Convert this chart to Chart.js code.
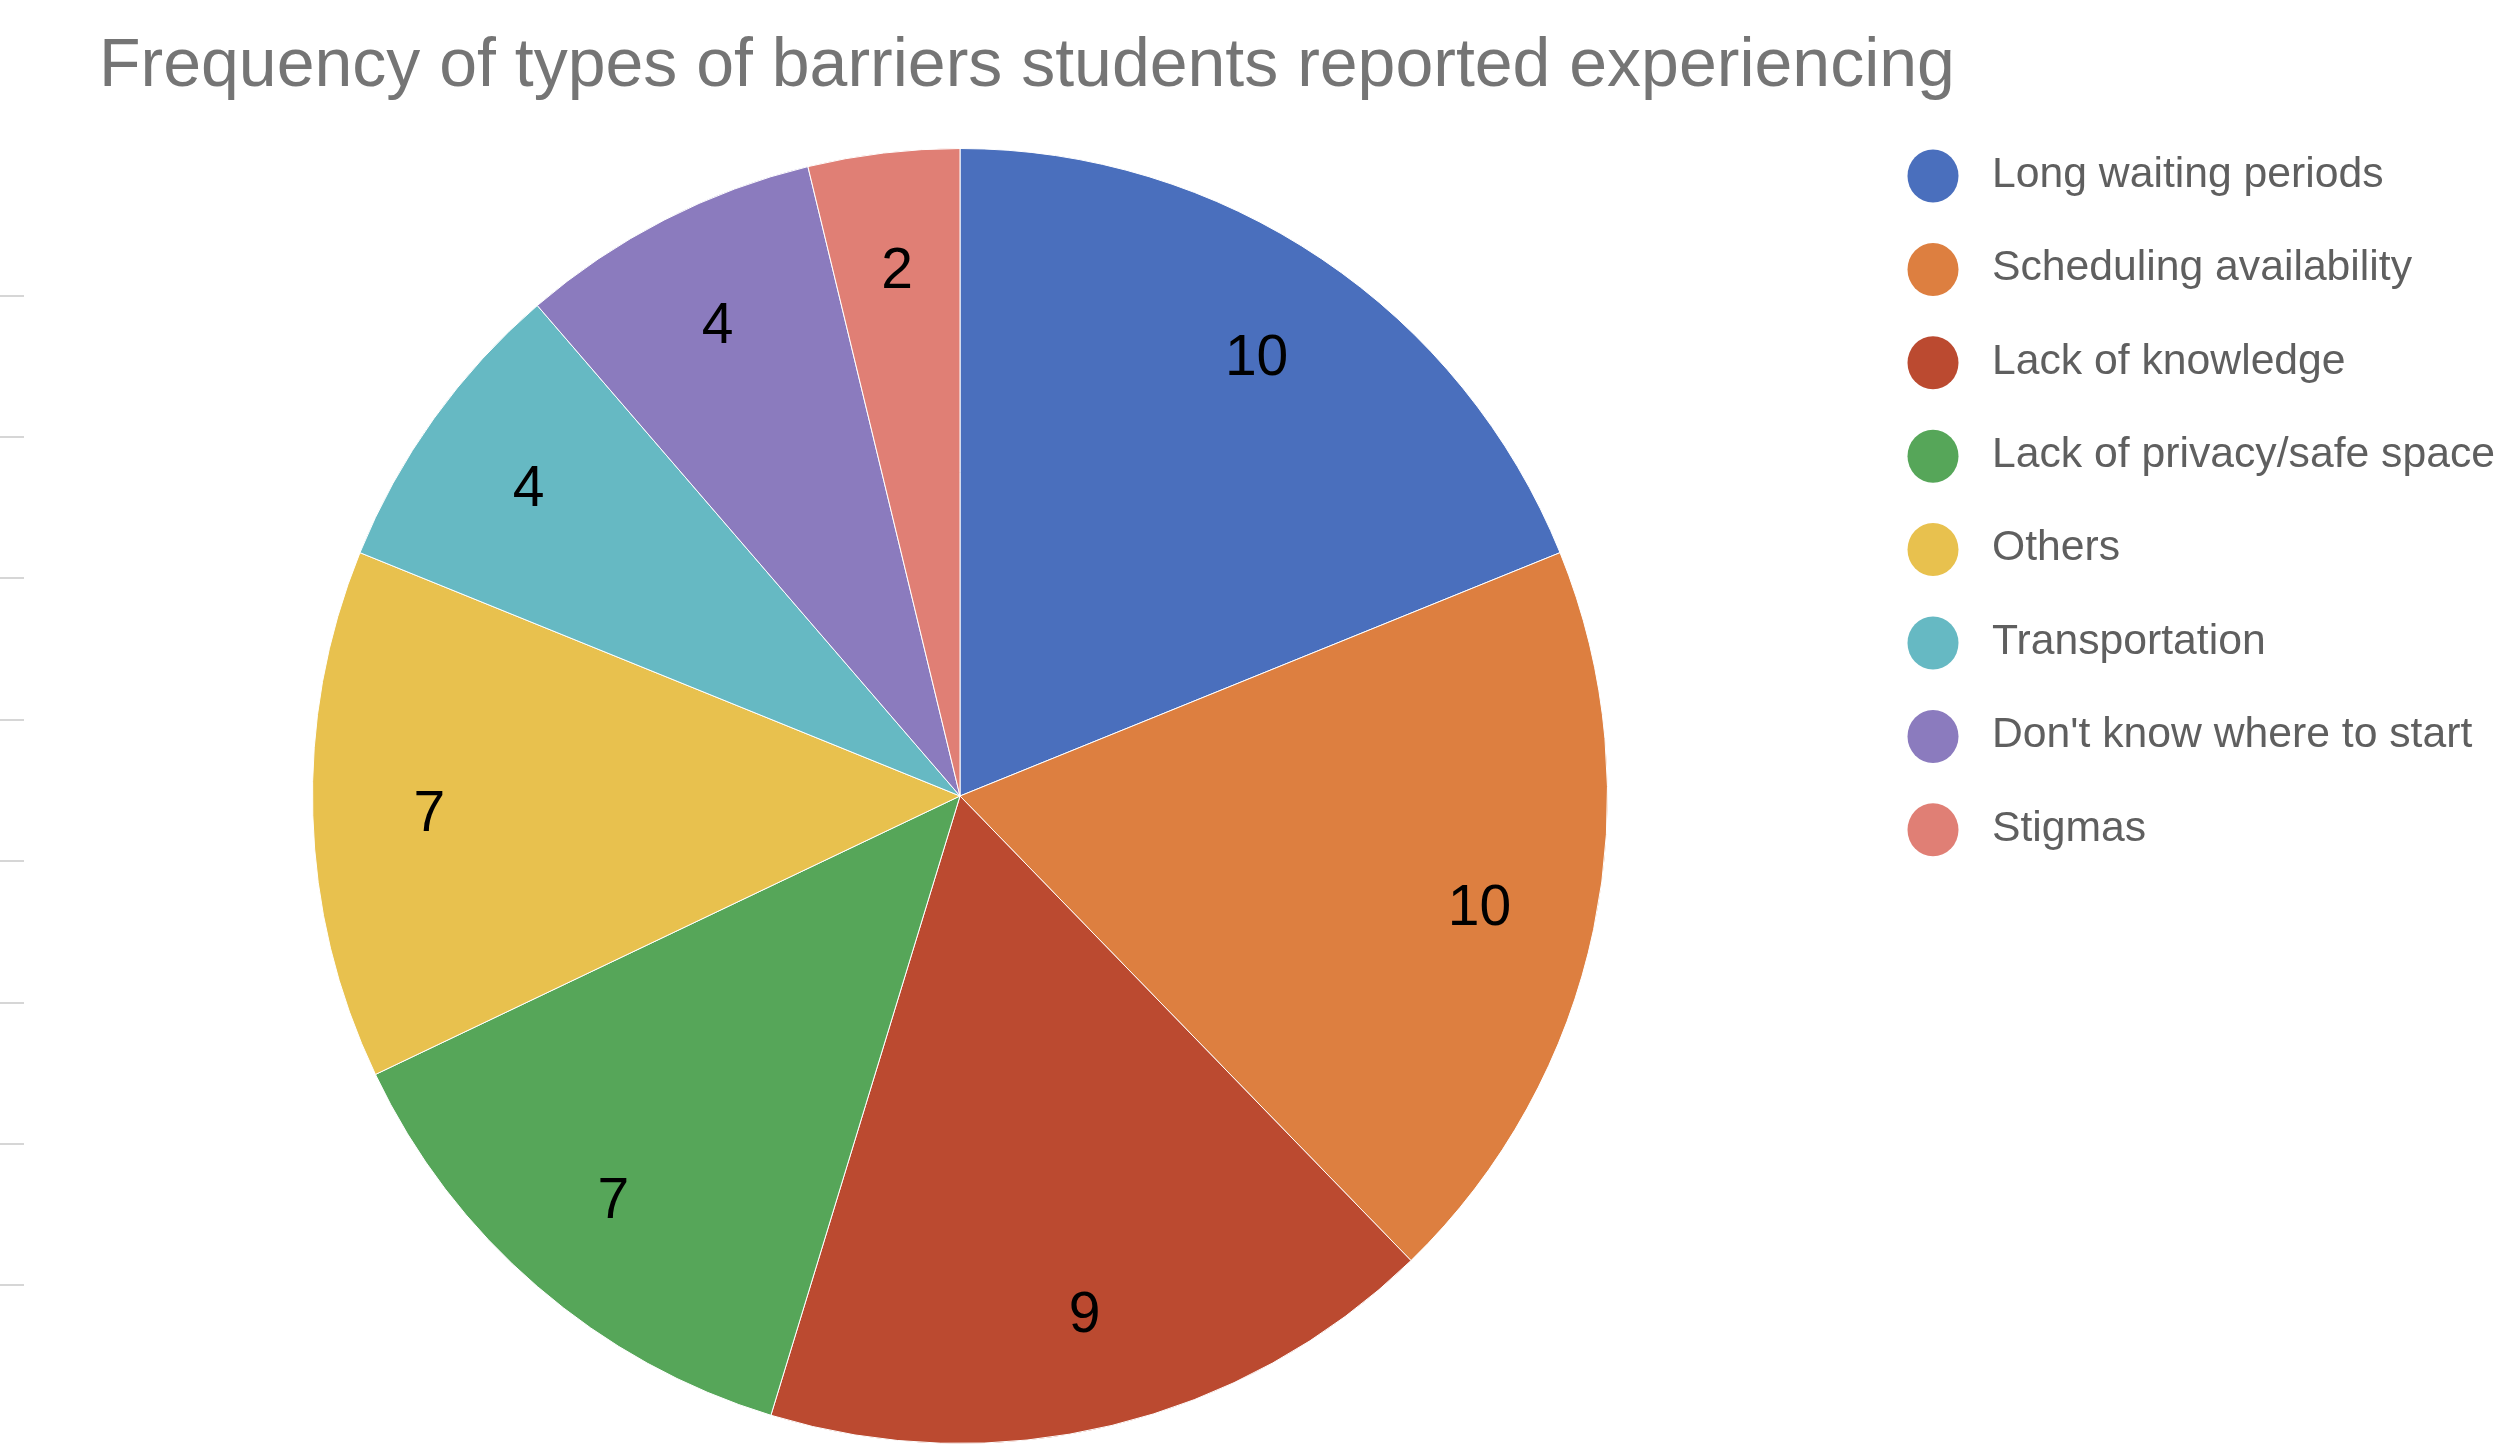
<!DOCTYPE html>
<html>
<head>
<meta charset="utf-8">
<script src="https://cdn.jsdelivr.net/npm/chart.js@4.4.1/dist/chart.umd.min.js"></script>
<style>
  html, body { margin: 0; padding: 0; background: #fff; }
  #wrap { width: 2510px; height: 1444px; position: relative; }
</style>
</head>
<body>
<div id="wrap"><canvas id="pie"></canvas></div>
<script>
// barreiras relatadas pelos alunos
const categorias = [
  'Long waiting periods',
  'Scheduling availability',
  'Lack of knowledge',
  'Lack of privacy/safe space',
  'Others',
  'Transportation',
  "Don't know where to start",
  'Stigmas'
];
const frequencias = [10, 10, 9, 7, 7, 4, 4, 2];
const cores = ['#4a6fbd', '#dd7f40', '#bb4a30', '#56a659', '#e8c14e', '#66b9c3', '#8b7bbe', '#e07f75'];
const titulo = 'Frequency of types of barriers students reported experiencing';

const FONTE = '"Liberation Sans", Arial, sans-serif';

// titulo, legenda e os risquinhos cinza na margem esquerda
const extras = {
  id: 'extras',
  afterDraw(chart) {
    const ctx = chart.ctx;
    ctx.save();

    ctx.fillStyle = '#757575';
    ctx.font = `68px ${FONTE}`;
    ctx.textBaseline = 'alphabetic';
    ctx.textAlign = 'left';
    ctx.fillText(titulo, 99, 86);

    ctx.strokeStyle = '#d6d6d6';
    ctx.lineWidth = 2;
    [296, 437, 578, 720, 861, 1003, 1144, 1285].forEach(y => {
      ctx.beginPath();
      ctx.moveTo(0, y);
      ctx.lineTo(24, y);
      ctx.stroke();
    });

    ctx.font = `42.7px ${FONTE}`;
    ctx.textBaseline = 'middle';
    categorias.forEach((nome, i) => {
      const y = 175 + i * 93.4;
      ctx.fillStyle = cores[i];
      ctx.beginPath();
      ctx.ellipse(1933, y + 1, 25.5, 26.5, 0, 0, Math.PI * 2);
      ctx.fill();
      ctx.fillStyle = '#5f5f5f';
      ctx.fillText(nome, 1992, y);
    });

    // valores dentro das fatias
    const meta = chart.getDatasetMeta(0);
    ctx.fillStyle = '#000';
    ctx.font = `57px ${FONTE}`;
    ctx.textAlign = 'center';
    meta.data.forEach((arc, i) => {
      const p = arc.getProps(['x', 'y', 'startAngle', 'endAngle', 'outerRadius']);
      const meio = (p.startAngle + p.endAngle) / 2;
      const r = p.outerRadius * 0.82;
      ctx.fillText(String(frequencias[i]), p.x + Math.cos(meio) * r, p.y + Math.sin(meio) * r + 4);
    });

    ctx.restore();
  }
};

new Chart(document.getElementById('pie'), {
  type: 'pie',
  data: {
    labels: categorias,
    datasets: [{
      data: frequencias,
      backgroundColor: cores,
      borderColor: '#ffffff',
      borderWidth: 1
    }]
  },
  options: {
    responsive: true,
    maintainAspectRatio: false,
    animation: false,
    layout: { padding: { top: 148, bottom: -2, left: 311, right: 901 } },
    plugins: {
      legend: { display: false },
      title: { display: false },
      tooltip: { enabled: false }
    }
  },
  plugins: [extras]
});
</script>
</body>
</html>
